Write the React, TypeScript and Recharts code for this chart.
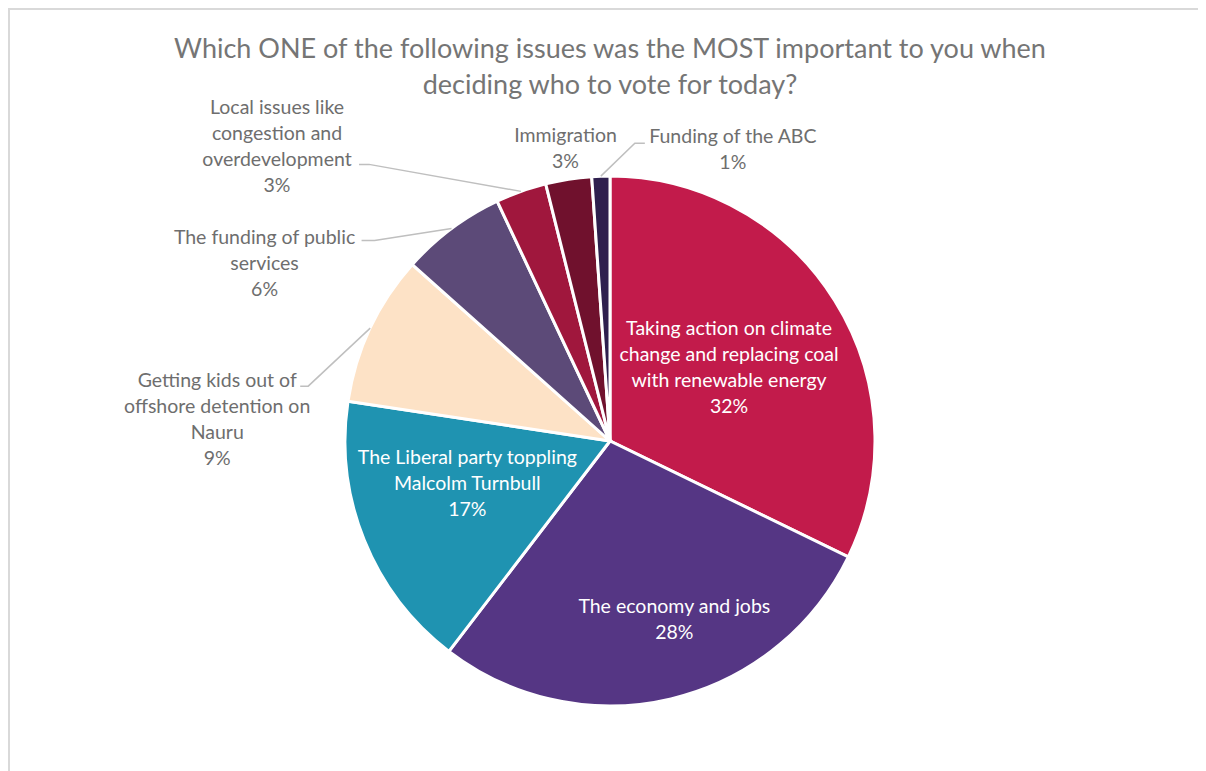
import React from "react";
import { PieChart, Pie, Cell } from "recharts";

// categories (line breaks match the wrapping in the original chart)
const categories = [
  "Taking action on climate\nchange and replacing coal\nwith renewable energy",
  "The economy and jobs",
  "The Liberal party toppling\nMalcolm Turnbull",
  "Getting kids out of\noffshore detention on\nNauru",
  "The funding of public\nservices",
  "Local issues like\ncongestion and\noverdevelopment",
  "Immigration",
  "Funding of the ABC",
];

// share of respondents, %
const shares = [32.2, 28.2, 17.0, 9.2, 6.4, 3.1, 2.8, 1.1];

const colors = [
  "#C21B4B",
  "#553684",
  "#1F93B1",
  "#FDE2C6",
  "#5C4A78",
  "#A0173D",
  "#70112D",
  "#2E1F4E",
];

const title = [
  "Which ONE of the following issues was the MOST important to you when",
  "deciding who to vote for today?",
];

const data = categories.map((name, i) => ({ name, value: shares[i] }));

// label placement: r = fraction of radius along the slice's mid angle, then dx/dy shift.
// elbow/tail = leader line points relative to the label centre
type Layout = {
  inside: boolean;
  r: number;
  dx: number;
  dy: number;
  elbow?: [number, number];
  tail?: [number, number];
};
const LABEL_LAYOUT: Layout[] = [
  { inside: true, r: 0.53, dx: 0, dy: 0 },
  { inside: true, r: 0.71, dx: 21, dy: -6 },
  { inside: true, r: 0.56, dx: -5, dy: -14 },
  { inside: false, r: 1, dx: -153, dy: 90, elbow: [91, -32], tail: [83, -32] },
  { inside: false, r: 1, dx: -187, dy: 34, elbow: [110, -22], tail: [97, -22] },
  { inside: false, r: 1, dx: -244, dy: -46, elbow: [92, 19], tail: [82, 19] },
  { inside: false, r: 1, dx: -3, dy: -32 },
  { inside: false, r: 1, dx: 132, dy: -28, elbow: [-98, -5], tail: [-88, -5] },
];

const total = shares.reduce((a, b) => a + b, 0);
const RAD = Math.PI / 180;
const LINE_H = 26;

function renderLabel(props: any) {
  const { cx, cy, midAngle, outerRadius, index, value } = props;
  const lay = LABEL_LAYOUT[index];
  const r = outerRadius * lay.r;
  const ex = cx + outerRadius * Math.cos(-midAngle * RAD);
  const ey = cy + outerRadius * Math.sin(-midAngle * RAD);
  const x = cx + r * Math.cos(-midAngle * RAD) + lay.dx;
  const y = cy + r * Math.sin(-midAngle * RAD) + lay.dy;
  const lines = [...categories[index].split("\n"), `${Math.round((value / total) * 100)}%`];
  const n = lines.length;
  return (
    <g key={`lbl-${index}`}>
      {lay.elbow && lay.tail && (
        <polyline
          points={`${ex},${ey} ${x + lay.elbow[0]},${y + lay.elbow[1]} ${x + lay.tail[0]},${y + lay.tail[1]}`}
          fill="none"
          stroke="#BFBFBF"
          strokeWidth={1.5}
        />
      )}
      <text
        x={x}
        y={y}
        textAnchor="middle"
        fill={lay.inside ? "#FFFFFF" : "#6E6E6E"}
        fontSize={19.5}
        fontFamily="Lato, 'Open Sans', sans-serif"
      >
        {lines.map((t, i) => (
          <tspan key={i} x={x} y={y + (i - (n - 1) / 2) * LINE_H} dominantBaseline="central">
            {t}
          </tspan>
        ))}
      </text>
    </g>
  );
}

export default function App() {
  return (
    <div
      style={{
        position: "relative",
        width: 1196,
        height: 761,
        borderTop: "2px solid #D9D9D9",
        borderLeft: "2px solid #D9D9D9",
        background: "#FFFFFF",
        fontFamily: "Lato, 'Open Sans', sans-serif",
      }}
    >
      <div
        style={{
          position: "absolute",
          top: 20,
          left: 0,
          width: 1200,
          textAlign: "center",
          fontSize: 27,
          lineHeight: "36px",
          color: "#757575",
          zIndex: 1,
        }}
      >
        {title.map((t) => (
          <div key={t}>{t}</div>
        ))}
      </div>
      <PieChart width={1196} height={761} margin={{ top: 0, right: 0, bottom: 0, left: 0 }}>
        <Pie
          data={data}
          dataKey="value"
          nameKey="name"
          cx={600}
          cy={431}
          outerRadius={265}
          startAngle={90}
          endAngle={-270}
          stroke="#FFFFFF"
          strokeWidth={3}
          label={renderLabel}
          labelLine={false}
          isAnimationActive={false}
        >
          {data.map((d, i) => (
            <Cell key={d.name} fill={colors[i]} />
          ))}
        </Pie>
      </PieChart>
    </div>
  );
}
